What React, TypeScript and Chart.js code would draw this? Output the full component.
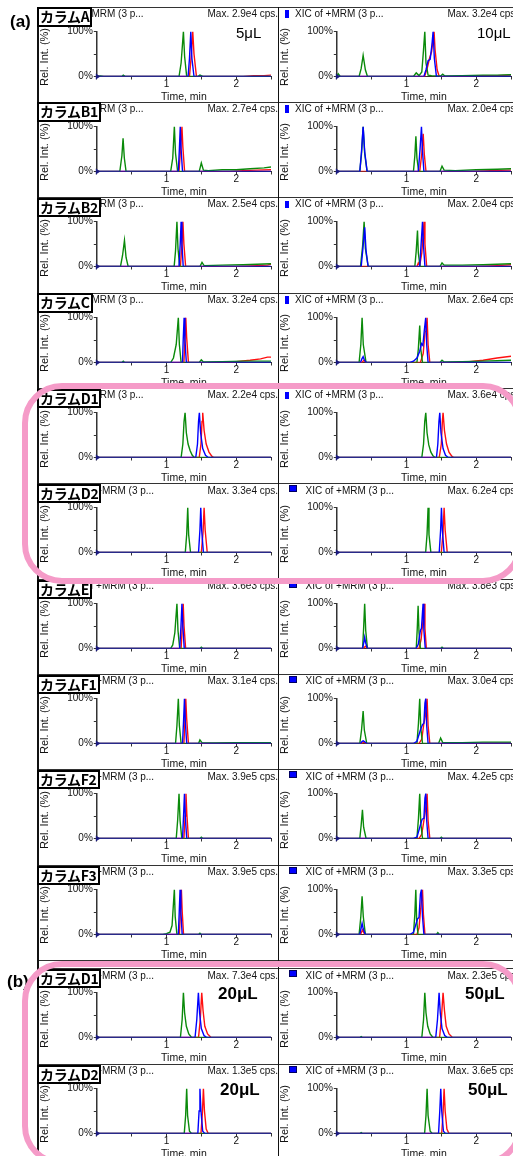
import React, { useEffect, useRef } from "react";
import { Chart, registerables } from "chart.js";
Chart.register(...registerables);
Chart.defaults.font.family = "'Liberation Sans', Arial, sans-serif";

type Pts = number[][];

// ---------- data: [time (min), relative intensity (%)] ----------
// Column A
const A_L_green: Pts = [[0,0],[0.05,1],[0.1,0],[0.36,0],[0.38,3],[0.41,0],[1.18,0],[1.21,30],[1.243,100],[1.26,45],[1.29,0],[1.45,0],[1.48,3],[1.52,0],[2.5,0]];
const A_L_blue: Pts = [[0,0],[1.31,0],[1.33,40],[1.349,100],[1.365,40],[1.395,0],[2.5,0]];
const A_L_red: Pts = [[0,0],[1.33,0],[1.355,45],[1.377,100],[1.395,50],[1.43,0],[2.1,0],[2.25,2],[2.4,2],[2.5,3]];
const A_R_green: Pts = [[0,0],[0.02,6],[0.05,0],[0.32,0],[0.35,18],[0.378,47],[0.41,15],[0.44,0],[1.1,0],[1.14,8],[1.18,2],[1.22,10],[1.245,60],[1.263,100],[1.28,30],[1.31,3],[1.36,2],[1.49,1],[1.52,5],[1.55,1],[1.8,2],[2.1,3],[2.3,3],[2.5,4]];
const A_R_blue: Pts = [[0,0],[1.25,0],[1.28,15],[1.31,35],[1.34,38],[1.365,70],[1.382,100],[1.4,40],[1.43,0],[2.5,0]];
const A_R_red: Pts = [[0,0],[1.26,0],[1.3,20],[1.33,40],[1.36,55],[1.38,80],[1.396,100],[1.41,60],[1.44,15],[1.47,0],[1.8,0],[2.0,2],[2.3,2],[2.5,3]];
// Column B1
const B1_L_green: Pts = [[0,0],[0.33,0],[0.36,35],[0.377,74],[0.395,30],[0.42,0],[1.06,0],[1.09,30],[1.113,100],[1.13,40],[1.16,0],[1.47,0],[1.5,19],[1.53,3],[1.6,2],[1.8,4],[2.0,4],[2.2,6],[2.4,8],[2.5,10]];
const B1_L_blue: Pts = [[0,0],[1.17,0],[1.185,50],[1.198,100],[1.21,50],[1.23,0],[2.5,0]];
const B1_L_red: Pts = [[0,0],[1.18,0],[1.2,45],[1.222,100],[1.235,55],[1.26,0],[1.9,0],[2.1,2],[2.3,3],[2.5,4]];
const B1_R_green: Pts = [[0,0],[0.33,0],[0.355,40],[0.378,100],[0.4,40],[0.435,0],[1.1,0],[1.12,35],[1.135,78],[1.15,30],[1.175,0],[1.48,0],[1.51,12],[1.54,3],[1.7,2],[2.0,4],[2.3,5],[2.5,6]];
const B1_R_blue: Pts = [[0,0],[0.33,0],[0.355,45],[0.378,100],[0.4,45],[0.435,0],[1.17,0],[1.195,50],[1.215,100],[1.23,45],[1.25,0],[2.5,0]];
const B1_R_red: Pts = [[0,0],[1.19,0],[1.22,40],[1.24,84],[1.255,40],[1.28,0],[1.9,0],[2.2,2],[2.5,3]];
// Column B2
const B2_L_green: Pts = [[0,0],[0.34,0],[0.37,25],[0.397,58],[0.42,20],[0.45,0],[1.11,0],[1.13,35],[1.15,100],[1.165,40],[1.19,0],[1.48,0],[1.51,9],[1.54,2],[1.8,3],[2.1,4],[2.3,5],[2.5,6]];
const B2_L_blue: Pts = [[0,0],[1.18,0],[1.197,50],[1.21,100],[1.222,50],[1.24,0],[2.5,0]];
const B2_L_red: Pts = [[0,0],[1.2,0],[1.22,45],[1.236,100],[1.25,50],[1.275,0],[2.0,0],[2.3,2],[2.45,3],[2.5,5]];
const B2_R_green: Pts = [[0,0],[0.34,0],[0.37,45],[0.392,100],[0.41,40],[0.45,0],[1.12,0],[1.14,35],[1.158,80],[1.17,30],[1.195,0],[1.48,0],[1.51,8],[1.54,3],[1.8,3],[2.1,4],[2.3,5],[2.5,6]];
const B2_R_blue: Pts = [[0,0],[0.35,0],[0.375,40],[0.4,87],[0.42,35],[0.45,0],[1.19,0],[1.21,50],[1.23,100],[1.245,45],[1.265,0],[2.5,0]];
const B2_R_red: Pts = [[0,0],[1.15,0],[1.17,8],[1.19,2],[1.22,30],[1.252,100],[1.265,50],[1.29,0],[2.0,0],[2.3,2],[2.5,4]];
// Column C
const C_L_green: Pts = [[0,0],[0.36,0],[0.38,3],[0.4,0],[1.06,0],[1.1,10],[1.14,40],[1.17,100],[1.185,40],[1.21,0],[1.47,0],[1.5,6],[1.53,1],[1.8,2],[2.1,3],[2.5,3]];
const C_L_blue: Pts = [[0,0],[1.23,0],[1.24,50],[1.253,100],[1.265,50],[1.285,0],[2.5,0]];
const C_L_red: Pts = [[0,0],[1.25,0],[1.265,50],[1.277,100],[1.29,55],[1.315,0],[1.9,0],[2.0,2],[2.2,5],[2.35,8],[2.45,12],[2.5,12]];
const C_R_green: Pts = [[0,0],[0.32,0],[0.345,40],[0.363,100],[0.38,40],[0.42,0],[1.15,0],[1.17,30],[1.19,82],[1.205,30],[1.23,0],[1.48,0],[1.51,5],[1.54,1],[1.8,2],[2.1,3],[2.3,4],[2.5,5]];
const C_R_blue: Pts = [[0,0],[0.34,0],[0.36,8],[0.378,13],[0.395,6],[0.42,0],[1.05,0],[1.1,3],[1.15,10],[1.19,25],[1.215,42],[1.235,38],[1.255,70],[1.276,100],[1.29,40],[1.31,0],[2.5,0]];
const C_R_red: Pts = [[0,0],[0.36,0],[0.39,5],[0.42,0],[1.2,0],[1.24,20],[1.265,67],[1.28,70],[1.296,100],[1.31,40],[1.335,0],[1.7,0],[1.9,2],[2.1,5],[2.3,10],[2.5,14]];
// Column D1
const D1_L_green: Pts = [[0,0],[1.21,0],[1.235,30],[1.252,80],[1.267,100],[1.285,55],[1.31,30],[1.34,15],[1.37,5],[1.4,0],[2.5,0]];
const D1_L_blue: Pts = [[0,0],[1.42,0],[1.445,30],[1.46,80],[1.472,100],[1.49,55],[1.52,20],[1.56,5],[1.6,0],[2.5,0]];
const D1_L_red: Pts = [[0,0],[1.47,0],[1.495,30],[1.51,80],[1.52,100],[1.54,60],[1.57,30],[1.61,12],[1.65,3],[1.68,0],[2.5,0]];
const D1_R_green: Pts = [[0,0],[1.22,0],[1.245,30],[1.262,80],[1.277,100],[1.295,55],[1.32,28],[1.35,12],[1.38,4],[1.41,0],[2.5,0]];
const D1_R_blue: Pts = [[0,0],[1.43,0],[1.45,30],[1.466,80],[1.478,100],[1.495,55],[1.525,20],[1.56,5],[1.6,0],[2.5,0]];
const D1_R_red: Pts = [[0,0],[1.47,0],[1.5,30],[1.515,80],[1.525,100],[1.545,60],[1.575,30],[1.61,12],[1.65,3],[1.68,0],[2.5,0]];
// Column D2
const D2_L_green: Pts = [[0,0],[1.27,0],[1.29,40],[1.305,100],[1.318,40],[1.345,0],[2.5,0]];
const D2_L_blue: Pts = [[0,0],[1.46,0],[1.48,50],[1.492,100],[1.505,50],[1.53,0],[2.5,0]];
const D2_L_red: Pts = [[0,0],[1.5,0],[1.525,45],[1.54,100],[1.555,50],[1.585,0],[2.5,0]];
const D2_R_green: Pts = [[0,0],[1.275,0],[1.295,40],[1.31,100],[1.323,40],[1.35,0],[2.5,0]];
const D2_R_blue: Pts = [[0,0],[1.47,0],[1.49,50],[1.502,100],[1.515,50],[1.54,0],[2.5,0]];
const D2_R_red: Pts = [[0,0],[1.5,0],[1.525,45],[1.54,100],[1.555,50],[1.585,0],[2.5,0]];
// Column E
const E_L_green: Pts = [[0,0],[1.06,0],[1.09,8],[1.12,35],[1.15,100],[1.165,40],[1.19,0],[1.48,0],[1.5,3],[1.52,0],[2.5,0]];
const E_L_blue: Pts = [[0,0],[1.19,0],[1.208,50],[1.222,100],[1.235,50],[1.255,0],[2.5,0]];
const E_L_red: Pts = [[0,0],[1.21,0],[1.227,50],[1.24,100],[1.252,50],[1.275,0],[2.5,0]];
const E_R_green: Pts = [[0,0],[0.37,0],[0.385,45],[0.4,100],[0.415,40],[0.44,0],[1.14,0],[1.155,45],[1.167,95],[1.18,35],[1.2,0],[1.49,0],[1.51,3],[1.53,0],[2.5,0]];
const E_R_blue: Pts = [[0,0],[0.37,0],[0.39,15],[0.4,25],[0.415,12],[0.44,0],[1.14,0],[1.17,10],[1.2,40],[1.215,45],[1.238,100],[1.25,40],[1.27,0],[2.5,0]];
const E_R_red: Pts = [[0,0],[0.38,0],[0.41,5],[0.44,0],[1.18,0],[1.21,20],[1.235,60],[1.252,100],[1.265,45],[1.285,0],[2.5,0]];
// Column F1
const F1_L_green: Pts = [[0,0],[1.13,0],[1.15,40],[1.17,100],[1.185,40],[1.21,0],[1.46,0],[1.48,8],[1.51,2],[1.7,1],[2.0,2],[2.5,2]];
const F1_L_blue: Pts = [[0,0],[1.23,0],[1.245,50],[1.258,100],[1.27,50],[1.29,0],[2.5,0]];
const F1_L_red: Pts = [[0,0],[1.25,0],[1.265,50],[1.277,100],[1.29,55],[1.315,0],[2.5,1]];
const F1_R_green: Pts = [[0,0],[0.33,0],[0.355,30],[0.378,72],[0.395,30],[0.43,0],[1.15,0],[1.172,45],[1.19,100],[1.205,35],[1.23,0],[1.46,0],[1.49,12],[1.52,2],[1.8,2],[2.1,3],[2.5,3]];
const F1_R_blue: Pts = [[0,0],[0.34,0],[0.365,5],[0.38,6],[0.4,4],[0.43,0],[1.1,0],[1.15,5],[1.2,30],[1.23,42],[1.25,45],[1.265,90],[1.277,100],[1.29,40],[1.31,0],[2.5,0]];
const F1_R_red: Pts = [[0,0],[0.36,0],[0.385,3],[0.42,0],[1.18,0],[1.22,10],[1.25,45],[1.27,60],[1.296,100],[1.31,40],[1.335,0],[2.5,1]];
// Column F2
const F2_L_green: Pts = [[0,0],[1.14,0],[1.16,40],[1.18,100],[1.195,40],[1.22,0],[1.48,0],[1.5,3],[1.52,0],[2.5,0]];
const F2_L_blue: Pts = [[0,0],[1.23,0],[1.245,50],[1.258,100],[1.27,50],[1.29,0],[2.5,0]];
const F2_L_red: Pts = [[0,0],[1.25,0],[1.268,50],[1.28,100],[1.292,55],[1.315,0],[2.5,0]];
const F2_R_green: Pts = [[0,0],[0.33,0],[0.35,30],[0.368,64],[0.385,25],[0.42,0],[1.15,0],[1.172,45],[1.19,100],[1.205,35],[1.23,0],[1.48,0],[1.5,3],[1.52,0],[2.5,0]];
const F2_R_blue: Pts = [[0,0],[1.1,0],[1.15,3],[1.2,30],[1.225,43],[1.25,45],[1.265,90],[1.277,100],[1.29,40],[1.31,0],[2.5,0]];
const F2_R_red: Pts = [[0,0],[1.18,0],[1.22,10],[1.25,40],[1.27,60],[1.296,100],[1.31,40],[1.335,0],[2.5,0]];
// Column F3
const F3_L_green: Pts = [[0,0],[0.95,0],[1.0,2],[1.05,5],[1.08,20],[1.113,100],[1.125,40],[1.15,0],[1.46,0],[1.48,3],[1.5,0],[2.5,0]];
const F3_L_blue: Pts = [[0,0],[1.17,0],[1.183,50],[1.195,100],[1.207,50],[1.225,0],[2.5,0]];
const F3_L_red: Pts = [[0,0],[1.185,0],[1.2,50],[1.214,100],[1.226,50],[1.245,0],[2.5,0]];
const F3_R_green: Pts = [[0,0],[0.32,0],[0.345,40],[0.363,85],[0.38,40],[0.41,0],[1.1,0],[1.12,45],[1.134,100],[1.145,35],[1.165,0],[1.43,0],[1.45,4],[1.47,0],[2.5,0]];
const F3_R_blue: Pts = [[0,0],[0.33,0],[0.35,15],[0.363,25],[0.38,12],[0.41,0],[1.05,0],[1.1,5],[1.14,25],[1.16,35],[1.18,38],[1.2,90],[1.215,100],[1.23,40],[1.25,0],[2.5,0]];
const F3_R_red: Pts = [[0,0],[0.34,0],[0.37,10],[0.4,0],[1.15,0],[1.18,15],[1.2,50],[1.23,100],[1.243,45],[1.265,0],[2.5,0]];
// (b) D1 / D2
const bD1_L_green: Pts = [[0,0],[1.2,0],[1.225,40],[1.243,100],[1.26,55],[1.285,25],[1.32,8],[1.36,0],[2.5,0]];
const bD1_L_blue: Pts = [[0,0],[1.41,0],[1.435,40],[1.458,100],[1.475,55],[1.5,20],[1.54,4],[1.58,0],[2.5,0]];
const bD1_L_red: Pts = [[0,0],[1.46,0],[1.485,40],[1.506,100],[1.525,60],[1.55,25],[1.59,8],[1.64,0],[2.5,0]];
const bD1_R_green: Pts = [[0,0],[0.33,0],[0.35,2],[0.37,0],[1.22,0],[1.245,40],[1.263,100],[1.28,55],[1.305,25],[1.34,8],[1.38,0],[2.5,0]];
const bD1_R_blue: Pts = [[0,0],[1.42,0],[1.445,40],[1.468,100],[1.485,55],[1.51,20],[1.55,4],[1.59,0],[2.5,0]];
const bD1_R_red: Pts = [[0,0],[1.475,0],[1.5,40],[1.525,100],[1.545,60],[1.57,25],[1.61,8],[1.66,0],[2.5,0]];
const bD2_L_green: Pts = [[0,0],[1.255,0],[1.275,40],[1.29,100],[1.303,40],[1.33,5],[1.36,0],[2.5,0]];
const bD2_L_blue: Pts = [[0,0],[1.45,0],[1.468,50],[1.48,100],[1.495,50],[1.52,5],[1.55,0],[2.5,0]];
const bD2_L_red: Pts = [[0,0],[1.495,0],[1.515,45],[1.53,100],[1.545,50],[1.57,10],[1.6,0],[2.5,0]];
const bD2_R_green: Pts = [[0,0],[0.33,0],[0.35,2],[0.37,0],[1.26,0],[1.28,40],[1.296,100],[1.31,40],[1.34,5],[1.37,0],[2.5,0]];
const bD2_R_blue: Pts = [[0,0],[1.46,0],[1.478,50],[1.492,100],[1.506,50],[1.53,5],[1.56,0],[2.5,0]];
const bD2_R_red: Pts = [[0,0],[1.505,0],[1.525,45],[1.54,100],[1.555,50],[1.58,10],[1.61,0],[2.5,0]];

// ---------- labels ----------
const COLUMN_NAMES = ["カラムA","カラムB1","カラムB2","カラムC","カラムD1","カラムD2","カラムE","カラムF1","カラムF2","カラムF3","カラムD1","カラムD2"];
const LEFT_MAX = ["Max. 2.9e4 cps.","Max. 2.7e4 cps.","Max. 2.5e4 cps.","Max. 3.2e4 cps.","Max. 2.2e4 cps.","Max. 3.3e4 cps.","Max. 3.6e3 cps.","Max. 3.1e4 cps.","Max. 3.9e5 cps.","Max. 3.9e5 cps.","Max. 7.3e4 cps.","Max. 1.3e5 cps."];
const RIGHT_MAX = ["Max. 3.2e4 cps.","Max. 2.0e4 cps.","Max. 2.0e4 cps.","Max. 2.6e4 cps.","Max. 3.6e4 cps.","Max. 6.2e4 cps.","Max. 3.8e3 cps.","Max. 3.0e4 cps.","Max. 4.2e5 cps.","Max. 3.3e5 cps.","Max. 2.3e5 cps.","Max. 3.6e5 cps."];
const HEADER_TEXT = "XIC of +MRM (3 p...";
const X_TITLE = "Time, min";
const Y_TITLE = "Rel. Int. (%)";
const X_TICK_LABELS = [1, 2];

const LEFT_SERIES: Pts[][] = [
  [A_L_green, A_L_blue, A_L_red],[B1_L_green, B1_L_blue, B1_L_red],[B2_L_green, B2_L_blue, B2_L_red],
  [C_L_green, C_L_blue, C_L_red],[D1_L_green, D1_L_blue, D1_L_red],[D2_L_green, D2_L_blue, D2_L_red],
  [E_L_green, E_L_blue, E_L_red],[F1_L_green, F1_L_blue, F1_L_red],[F2_L_green, F2_L_blue, F2_L_red],
  [F3_L_green, F3_L_blue, F3_L_red],[bD1_L_green, bD1_L_blue, bD1_L_red],[bD2_L_green, bD2_L_blue, bD2_L_red],
];
const RIGHT_SERIES: Pts[][] = [
  [A_R_green, A_R_blue, A_R_red],[B1_R_green, B1_R_blue, B1_R_red],[B2_R_green, B2_R_blue, B2_R_red],
  [C_R_green, C_R_blue, C_R_red],[D1_R_green, D1_R_blue, D1_R_red],[D2_R_green, D2_R_blue, D2_R_red],
  [E_R_green, E_R_blue, E_R_red],[F1_R_green, F1_R_blue, F1_R_red],[F2_R_green, F2_R_blue, F2_R_red],
  [F3_R_green, F3_R_blue, F3_R_red],[bD1_R_green, bD1_R_blue, bD1_R_red],[bD2_R_green, bD2_R_blue, bD2_R_red],
];

// ---------- layout ----------
const ROW_TOPS = [6.5, 101.5, 197, 292.5, 388, 483.3, 578.8, 674, 769.3, 864.8, 968.2, 1063.8];
const COL_LEFTS = [38, 278];
const PANEL_W = 240;
const PANEL_H = 95;
const LABEL_FONT = "'Liberation Sans', Arial, sans-serif";
const GREEN = "#0a8a0a";
const BLUE = "#0000ff";
const RED = "#ff1010";
const PINK = "#f59bc8";

const baseMarker = {
  id: "baseMarker",
  afterDatasetsDraw(chart: any) {
    const { ctx, chartArea } = chart;
    const l = chartArea.left, b = chartArea.bottom;
    ctx.save();
    ctx.fillStyle = "#1a1a80";
    ctx.beginPath();
    ctx.moveTo(l - 1, b - 3);
    ctx.lineTo(l + 3.5, b);
    ctx.lineTo(l - 1, b + 3);
    ctx.closePath();
    ctx.fill();
    ctx.restore();
  },
};

function Panel({ left, top, series }: { left: number; top: number; series: Pts[] }) {
  const ref = useRef<HTMLCanvasElement>(null);
  useEffect(() => {
    const [g, b, r] = series;
    const mk = (pts: Pts, color: string, order: number) => ({
      data: pts.map(([x, y]) => ({ x, y })),
      borderColor: color,
      backgroundColor: color,
      borderWidth: 1.4,
      pointRadius: 0,
      tension: 0,
      fill: false,
      order,
    });
    const chart = new Chart(ref.current as HTMLCanvasElement, {
      type: "line",
      data: { datasets: [mk(b, BLUE, 0), mk(g, GREEN, 1), mk(r, RED, 2)] as any },
      options: {
        responsive: false,
        animation: false,
        devicePixelRatio: 1,
        layout: { padding: { left: 0, right: 7, top: 24.5, bottom: 0 } },
        plugins: { legend: { display: false }, tooltip: { enabled: false } },
        scales: {
          x: {
            type: "linear",
            min: 0,
            max: 2.5,
            afterFit: (s: any) => { s.height = 25.5; },
            ticks: {
              stepSize: 0.5,
              autoSkip: false,
              maxRotation: 0,
              padding: 0,
              color: "#111",
              font: { size: 10, lineHeight: 1 },
              callback: (v: any) => (X_TICK_LABELS.includes(Number(v)) ? String(v) : ""),
            },
            grid: { display: true, drawOnChartArea: false, drawTicks: true, tickLength: 3, color: "#333" },
            border: { display: true, color: "#333", width: 1 },
            title: { display: true, text: X_TITLE, color: "#111", font: { size: 10.5, lineHeight: 1 }, padding: 0 },
          },
          y: {
            min: 0,
            max: 100,
            afterFit: (s: any) => { s.width = 58.8; },
            ticks: {
              stepSize: 50,
              padding: 1,
              color: "#111",
              font: { size: 10, lineHeight: 1 },
              callback: (v: any) => (v === 100 ? "100%" : v === 0 ? "0%" : ""),
            },
            grid: { display: true, drawOnChartArea: false, drawTicks: true, tickLength: 3, color: "#333" },
            border: { display: true, color: "#333", width: 1.5 },
          },
        },
      } as any,
      plugins: [baseMarker],
    });
    return () => chart.destroy();
  }, []);
  return (
    <canvas
      ref={ref}
      width={PANEL_W}
      height={PANEL_H}
      style={{ position: "absolute", left, top, width: PANEL_W, height: PANEL_H }}
    />
  );
}

function Header({ left, top, row, max }: { left: number; top: number; row: number; max: string }) {
  const square = row >= 5;
  return (
    <>
      {square ? (
        <div style={{ position: "absolute", left: left + 11.3, top: top + 1.8, width: 7.4, height: 7.4, background: BLUE, border: "1px solid #000060", boxSizing: "border-box" }} />
      ) : (
        <div style={{ position: "absolute", left: left + 7.2, top: top + 3.5, width: 4.2, height: 7.5, background: BLUE }} />
      )}
      <div style={{ position: "absolute", left: left + (square ? 27.5 : 17), top: top + 1.3, font: `10px ${LABEL_FONT}`, lineHeight: "12px", color: "#111", whiteSpace: "nowrap" }}>{HEADER_TEXT}</div>
      <div style={{ position: "absolute", left: left + 169.5, top: top + 1.3, font: `10px ${LABEL_FONT}`, lineHeight: "12px", color: "#111", whiteSpace: "nowrap" }}>{max}</div>
      <div style={{ position: "absolute", left: left + 5.5 - 40, top: top + 50.5 - 6, width: 80, height: 12, lineHeight: "12px", textAlign: "center", font: `11px ${LABEL_FONT}`, color: "#111", transform: "rotate(-90deg)", whiteSpace: "nowrap" }}>{Y_TITLE}</div>
    </>
  );
}

export default function App() {
  const rows = ROW_TOPS.map((t, i) => i);
  return (
    <div style={{ position: "absolute", left: 0, top: 0, width: 513, height: 1156, overflow: "hidden", background: "#fff" }}>
      {rows.map((i) => (
        <React.Fragment key={"p" + i}>
          <Panel left={COL_LEFTS[0]} top={ROW_TOPS[i]} series={LEFT_SERIES[i]} />
          <Panel left={COL_LEFTS[1]} top={ROW_TOPS[i]} series={RIGHT_SERIES[i]} />
        </React.Fragment>
      ))}
      {rows.map((i) => (
        <div key={"h" + i} style={{ position: "absolute", left: 38, top: ROW_TOPS[i], width: 480, height: 1, background: "#333" }} />
      ))}
      <div style={{ position: "absolute", left: 38, top: ROW_TOPS[9] + 95.3, width: 480, height: 1, background: "#333" }} />
      <div style={{ position: "absolute", left: 37, top: 6.5, width: 1.5, height: 1160, background: "#111" }} />
      <div style={{ position: "absolute", left: 277.5, top: 6.5, width: 1.5, height: 1160, background: "#111" }} />
      {rows.map((i) => (
        <React.Fragment key={"t" + i}>
          <Header left={COL_LEFTS[0]} top={ROW_TOPS[i]} row={i} max={LEFT_MAX[i]} />
          <Header left={COL_LEFTS[1]} top={ROW_TOPS[i]} row={i} max={RIGHT_MAX[i]} />
        </React.Fragment>
      ))}
      {rows.map((i) => (
        <div key={"c" + i} style={{ position: "absolute", left: 37, top: ROW_TOPS[i] + 0.8, height: 19.4, boxSizing: "border-box", border: "2px solid #000", background: "#fff", padding: "0 1px", font: "bold 14px 'Noto Sans CJK JP', sans-serif", lineHeight: "15.4px", letterSpacing: "-0.3px", color: "#000", whiteSpace: "nowrap" }}>{COLUMN_NAMES[i]}</div>
      ))}
      <div style={{ position: "absolute", left: 236, top: ROW_TOPS[0] + 17, font: `15px ${LABEL_FONT}`, lineHeight: "17px", color: "#000" }}>5μL</div>
      <div style={{ position: "absolute", left: 477, top: ROW_TOPS[0] + 17, font: `15px ${LABEL_FONT}`, lineHeight: "17px", color: "#000" }}>10μL</div>
      <div style={{ position: "absolute", left: 218, top: ROW_TOPS[10] + 15.5, font: `bold 17px ${LABEL_FONT}`, lineHeight: "19px", color: "#000" }}>20μL</div>
      <div style={{ position: "absolute", left: 465, top: ROW_TOPS[10] + 15.5, font: `bold 17px ${LABEL_FONT}`, lineHeight: "19px", color: "#000" }}>50μL</div>
      <div style={{ position: "absolute", left: 220, top: ROW_TOPS[11] + 16, font: `bold 17px ${LABEL_FONT}`, lineHeight: "19px", color: "#000" }}>20μL</div>
      <div style={{ position: "absolute", left: 468, top: ROW_TOPS[11] + 16, font: `bold 17px ${LABEL_FONT}`, lineHeight: "19px", color: "#000" }}>50μL</div>
      <div style={{ position: "absolute", left: 10, top: 11.5, font: `bold 17px ${LABEL_FONT}`, lineHeight: "19px", color: "#000" }}>(a)</div>
      <div style={{ position: "absolute", left: 7, top: 972, font: `bold 17px ${LABEL_FONT}`, lineHeight: "19px", color: "#000" }}>(b)</div>
      <div style={{ position: "absolute", left: 22, top: 382.5, width: 501, height: 201, boxSizing: "border-box", border: `6px solid ${PINK}`, borderRadius: 40 }} />
      <div style={{ position: "absolute", left: 22, top: 960.5, width: 501, height: 205, boxSizing: "border-box", border: `6px solid ${PINK}`, borderRadius: 40 }} />
    </div>
  );
}
